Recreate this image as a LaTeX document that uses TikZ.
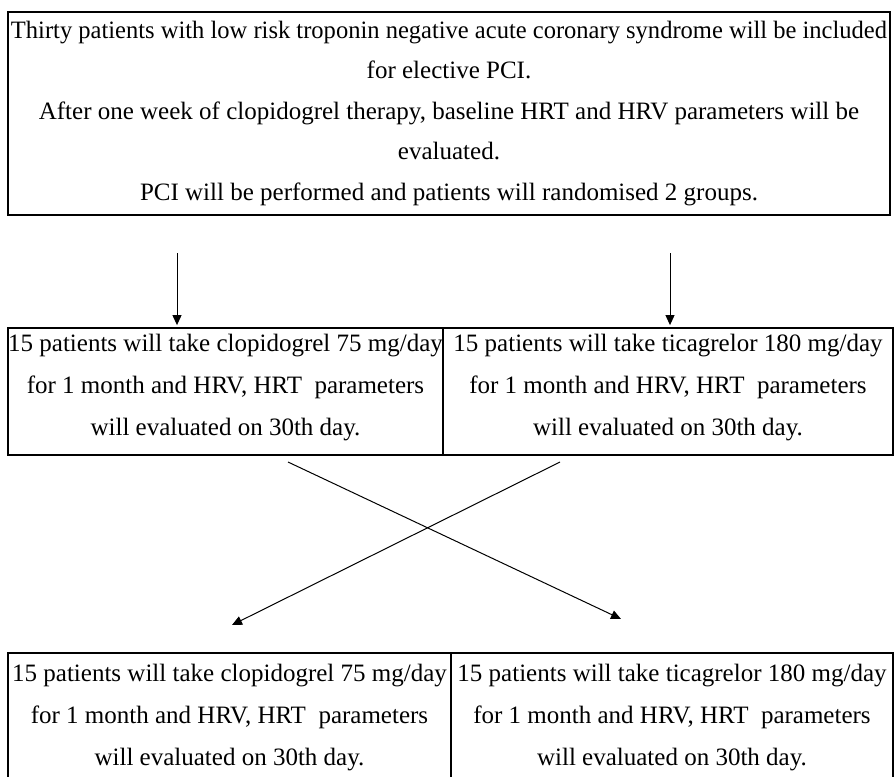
\documentclass[tikz,border=0pt]{standalone}
\usepackage{fontspec}
\setmainfont{Liberation Serif}
\usetikzlibrary{arrows.meta}
\tikzset{
  box/.style={draw, line width=1.4pt, rectangle, align=center, inner sep=0pt},
  midbox/.style={box, line width=1.8pt},
  conn/.style={line width=1pt, -{Triangle[length=10pt,width=9pt]}},
  txt/.style={font=\fontsize{25}{42}\selectfont}
}
\begin{document}
\begin{tikzpicture}[x=1pt,y=-1pt]
\useasboundingbox (0,0) rectangle (896,776);
\fill[white] (0,0) rectangle (896,776);
\begin{scope}
\clip (0,0) rectangle (896,776);
\node[box, minimum width=882pt, minimum height=203pt, font=\fontsize{25}{40.5}\selectfont] (top) at (449,113.5)
 {\resizebox{876pt}{\height}{Thirty patients with low risk troponin negative acute coronary syndrome will be included}\\
  for elective PCI.\\
  After one week of clopidogrel therapy, baseline HRT and HRV parameters will be\\
  evaluated.\\
  PCI will be performed and patients will randomised 2 groups.};
\node[midbox, txt, text depth=14pt, minimum width=435pt, minimum height=127pt] (ml) at (225.5,391.5)
 {15 patients will take clopidogrel 75 mg/day\\for 1 month and HRV, HRT\ \ parameters\\will evaluated on 30th day.};
\node[midbox, txt, text depth=14pt, minimum width=450pt, minimum height=127pt] (mr) at (668,391.5)
 {15 patients will take ticagrelor 180 mg/day\\for 1 month and HRV, HRT\ \ parameters\\will evaluated on 30th day.};
\node[midbox, txt, minimum width=443pt, minimum height=129pt] (bl) at (229.5,717.5)
 {15 patients will take clopidogrel 75 mg/day\\for 1 month and HRV, HRT\ \ parameters\\will evaluated on 30th day.};
\node[midbox, txt, minimum width=442pt, minimum height=129pt] (br) at (672,717.5)
 {15 patients will take ticagrelor 180 mg/day\\for 1 month and HRV, HRT\ \ parameters\\will evaluated on 30th day.};
\end{scope}
\coordinate (s1) at (177,253);
\coordinate (s2) at (670,253);
\draw[conn] (s1) -- ([yshift=2pt]s1 |- ml.north);
\draw[conn] (s2) -- ([yshift=2pt]s2 |- mr.north);
\coordinate (c1) at (288,462);
\coordinate (e1) at (621,619);
\coordinate (c2) at (560,462);
\coordinate (e2) at (232,625);
\draw[conn] (c1) -- (e1);
\draw[conn] (c2) -- (e2);
\end{tikzpicture}
\end{document}
